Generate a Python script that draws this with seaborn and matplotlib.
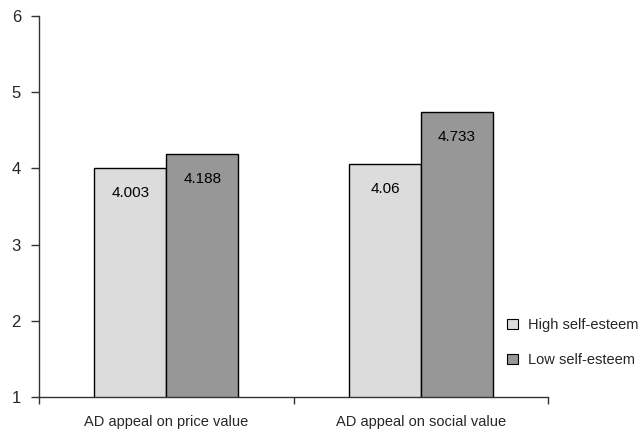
import matplotlib
matplotlib.use("Agg")
import matplotlib.pyplot as plt
from matplotlib.patches import Patch
import seaborn as sns
import pandas as pd

categories = ["AD appeal on price value", "AD appeal on social value"]
groups = ["High self-esteem", "Low self-esteem"]
high_values = [4.003, 4.06]
low_values = [4.188, 4.733]
y_ticks = [1, 2, 3, 4, 5, 6]
colors = ["#DCDCDC", "#979797"]

sns.set_theme(style="white")
plt.rcParams["font.family"] = ["Liberation Sans", "DejaVu Sans"]

df = pd.DataFrame({
    "category": categories * 2,
    "group": [groups[0]] * 2 + [groups[1]] * 2,
    "value": high_values + low_values,
})

fig = plt.figure(figsize=(6.41, 4.34), dpi=100)
ax = fig.add_axes([0.0608, 0.0846, 0.7947, 0.8792])

sns.barplot(data=df, x="category", y="value", hue="group", order=categories,
            hue_order=groups, palette=colors, edgecolor="black", linewidth=1.0,
            width=0.565, gap=0, errorbar=None, legend=False, ax=ax)

ax.set_ylim(1, 6)
ax.set_xlim(-0.5, 1.5)
ax.set_yticks(y_ticks)
ax.set_yticklabels([str(t) for t in y_ticks], fontsize=12)
ax.tick_params(axis="y", direction="out", length=6, width=1, color="#333333",
               pad=7, left=True)

# category boundaries carry the tick marks; names sit between them
ax.set_xticks([-0.5, 0.5, 1.5])
ax.set_xticklabels(["", "", ""])
ax.tick_params(axis="x", which="major", direction="out", length=5, width=1,
               color="#333333", bottom=True)
ax.set_xticks([0, 1], minor=True)
ax.set_xticklabels(categories, minor=True, fontsize=10.5)
ax.tick_params(axis="x", which="minor", length=0, pad=13)
ax.set_xlabel("")
ax.set_ylabel("")

for side in ["top", "right"]:
    ax.spines[side].set_visible(False)
for side in ["left", "bottom"]:
    ax.spines[side].set_color("#333333")
    ax.spines[side].set_linewidth(1.0)

for container, vals in zip(ax.containers, [high_values, low_values]):
    for patch, v in zip(container.patches, vals):
        xc = patch.get_x() + patch.get_width() / 2
        ax.annotate(f"{v:g}", xy=(xc, v), xytext=(0, -25),
                    textcoords="offset pixels", ha="center", va="center",
                    fontsize=11, color="black")

handles = [Patch(facecolor=c, edgecolor="black", linewidth=0.8) for c in colors]
fig.legend(handles, groups, loc="upper left",
           bbox_to_anchor=(500 / 641, 1 - 311 / 434), frameon=False,
           fontsize=10.5, handlelength=0.7, handleheight=0.7,
           handletextpad=0.7, labelspacing=1.45, borderpad=0)

fig.savefig("out.png", dpi=100)
